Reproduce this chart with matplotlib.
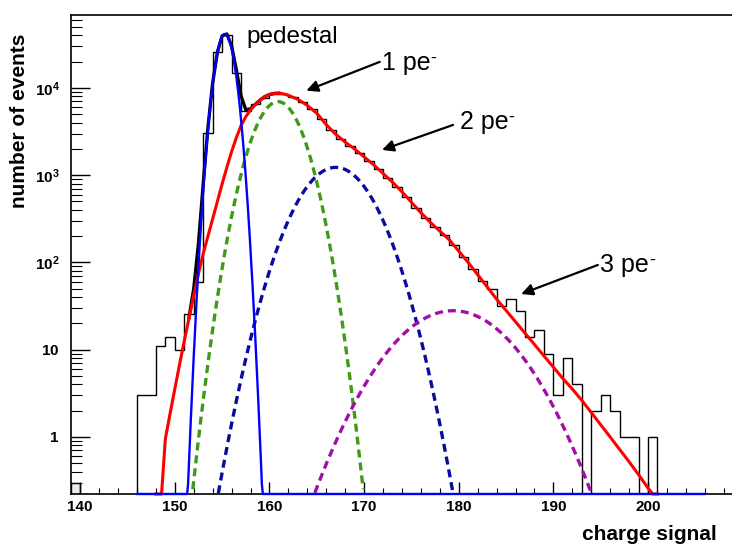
import numpy as np
import matplotlib
matplotlib.use('Agg')
import matplotlib.pyplot as plt
from matplotlib.ticker import LogLocator, MultipleLocator, FuncFormatter, NullFormatter

plt.rcParams['font.family'] = ['Liberation Sans', 'DejaVu Sans']
plt.rcParams['mathtext.fontset'] = 'custom'
plt.rcParams['mathtext.rm'] = 'Liberation Sans'
plt.rcParams['mathtext.bf'] = 'Liberation Sans:bold'
plt.rcParams['mathtext.it'] = 'Liberation Sans:italic'

# histogram, bins of width 1 starting at 139
bin_lo = 139
counts = [0.3, 0, 0, 0, 0, 0, 0,
          3, 3, 11, 14, 10, 26, 60, 3080, 26000, 40000, 15000, 5500,
          6500, 7600, 8500, 8600, 7800, 6850, 5700, 4360, 3270, 2630,
          2190, 1800, 1460, 1175, 933, 733, 556, 417, 324, 257, 204,
          157, 116, 85, 62, 50, 32, 38, 28, 14, 17, 9, 3, 8, 4, 0,
          2, 3, 2, 1, 1, 0, 1, 0, 0, 0, 0, 0, 0, 0, 0]

# fit components (amplitude, mean, sigma)
pedestal = (41600, 155.3, 0.8)
pe1 = (6970, 160.9, 1.99)
pe2 = (1230, 167.0, 2.99)
pe3 = (28, 179.4, 4.71)

# total fit (red)
red_x = [148.0, 148.6, 149.0, 149.5, 150.0, 150.5, 151.0, 151.5, 152.0, 152.5,
         153.0, 153.5, 154.0, 154.5, 155.0, 155.5, 156.0, 156.5, 157.0, 157.5,
         158.0, 158.5, 159.0, 159.5, 160.0, 160.5, 161.0, 161.5, 162.0,
         163, 164, 165, 166, 167, 168, 169, 170, 171, 172, 173, 174, 175,
         176, 177, 178, 179, 180, 181, 182, 183, 184, 185, 186, 187, 188,
         189, 190, 191, 192, 193, 194, 195, 196, 197, 198, 199, 200, 200.5, 201]
red_y = [0.06, 0.22, 0.95, 1.86, 3.55, 6.76, 12.6, 22.9, 41.7, 74.1,
         126, 200, 316, 501, 794, 1230, 1862, 2690, 3715, 4677,
         5623, 6457, 7244, 7943, 8414, 8650, 8710, 8550, 8222,
         7413, 6310, 5129, 3802, 2951, 2399, 1995, 1622, 1318, 1047, 832, 646, 490,
         372, 288, 229, 182, 135, 100, 72.4, 52.5, 38.0, 28.2, 20.9, 15.5, 11.5,
         8.51, 6.31, 4.68, 3.55, 2.63, 1.91, 1.38, 1.0, 0.72, 0.52, 0.37, 0.26, 0.13, 0.06]

YMIN, YMAX = 0.222, 6.87e4
XMIN, XMAX = 139, 209


def gauss(x, p):
    a, mu, s = p
    return a * np.exp(-0.5 * ((x - mu) / s) ** 2)


fig = plt.figure(figsize=(7.32, 5.45), dpi=100)
ax = fig.add_axes([0.0966, 0.0936, 0.905, 0.879])
ax.set_yscale('log')

# histogram
edges = np.arange(bin_lo, bin_lo + len(counts) + 1)
c = np.array(counts, dtype=float)
c = np.where(c > 0, c, 1e-3)
ax.fill_between(edges[:2], [counts[0], counts[0]], 1e-3, color='#ececec', zorder=1)
ax.stairs(c, edges, baseline=1e-3, color='black', lw=1.0, zorder=2)

# dashed components, drawn only above the frame bottom
xf = np.linspace(146, 206, 601)
for p, col in [(pe1, '#3f9a16'), (pe2, '#0a0aa0'), (pe3, '#a010a8')]:
    y = gauss(xf, p)
    y = np.where(y >= YMIN, y, np.nan)
    ax.plot(xf, y, color=col, lw=2.4, dashes=(2.4, 1.5), zorder=3)

# total = pedestal + red, around the pedestal
rx = np.array(red_x)
ry = np.array(red_y)
m = (rx >= 151.5) & (rx <= 161)
ax.plot(rx[m], ry[m] + gauss(rx[m], pedestal), color='black', lw=2.4, zorder=3.5)

# red total fit, clipped to the bottom
ax.plot(rx, np.maximum(ry, YMIN), color='#ff0000', lw=2.2, zorder=4, clip_on=False)

# pedestal
ax.plot(xf, np.maximum(gauss(xf, pedestal), YMIN), color='#0000ff', lw=1.7,
        zorder=5, clip_on=False)

# annotations
ax.text(157.6, 3.84e4, 'pedestal', fontsize=17.5, va='center', ha='left')
arrows = [('1 pe', (163.9, 9310), (171.65, 1.99e4), (171.9, 1.94e4)),
          ('2 pe', (171.9, 1950), (179.4, 3770), (180.1, 4080)),
          ('3 pe', (186.6, 43.5), (194.7, 93.6), (194.95, 93.6))]
for lab, tip, tail, tpos in arrows:
    ax.annotate('', xy=tip, xytext=tail,
                arrowprops=dict(arrowstyle='-|>', color='black', lw=1.6,
                                mutation_scale=17, shrinkA=0, shrinkB=0),
                zorder=6)
    t = ax.text(tpos[0], tpos[1], lab, fontsize=18, va='center', ha='left')
    ax.annotate('-', xy=(1.0, 0.7), xycoords=t, fontsize=13,
                ha='left', va='center')

ax.set_xlim(XMIN, XMAX)
ax.set_ylim(YMIN, YMAX)

ax.xaxis.set_major_locator(MultipleLocator(10))
ax.xaxis.set_minor_locator(MultipleLocator(2))
ax.yaxis.set_major_locator(LogLocator(base=10, numticks=20))
ax.yaxis.set_minor_locator(LogLocator(base=10, subs=np.arange(2, 10), numticks=20))
ax.yaxis.set_minor_formatter(NullFormatter())


def yfmt(v, pos):
    e = int(round(np.log10(v)))
    if e == 0:
        return r'$\mathbf{1}$'
    if e == 1:
        return r'$\mathbf{10}$'
    return r'$\mathbf{10^{%d}}$' % e


ax.yaxis.set_major_formatter(FuncFormatter(yfmt))

ax.tick_params(axis='both', which='both', direction='in', top=False, right=False)
ax.tick_params(axis='y', which='major', length=14, width=1.0, pad=8, labelsize=11)
ax.tick_params(axis='y', which='minor', length=8, width=0.8)
ax.tick_params(axis='x', which='major', length=9, width=1.0, pad=4, labelsize=11)
ax.tick_params(axis='x', which='minor', length=4.5, width=0.8)
for lab in ax.get_xticklabels():
    lab.set_fontweight('bold')

for s in ['left', 'bottom', 'top']:
    ax.spines[s].set_linewidth(1.2)
ax.spines['right'].set_visible(False)

fig.text(0.0266, 0.778, 'number of events', rotation=90, fontsize=15,
         fontweight='bold', ha='center', va='center')
fig.text(0.9795, 0.0092, 'charge signal', fontsize=15, fontweight='bold',
         ha='right', va='baseline')

fig.savefig('out.png', dpi=100)
